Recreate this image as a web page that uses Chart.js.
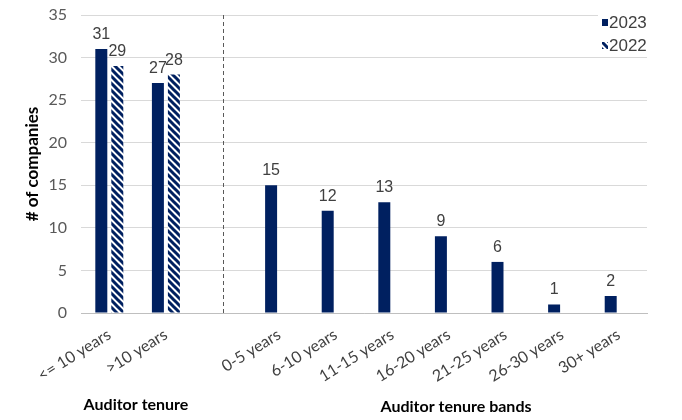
<!DOCTYPE html>
<html>
<head>
<meta charset="utf-8">
<script src="https://cdn.jsdelivr.net/npm/chart.js@4"></script>
<style>
    html, body { margin: 0; padding: 0; background: #fff; }
    #wrap { width: 682px; height: 420px; }
</style>
</head>
<body>
<div id="wrap"><canvas id="auditor_tenure"></canvas></div>
<script>
// Companies by auditor tenure, with a blank slot separating the two groupings.
const categories = ['<= 10 years', '>10 years', '', '0-5 years', '6-10 years', '11-15 years',
    '16-20 years', '21-25 years', '26-30 years', '30+ years'];
const companies2023 = [31, 27, null, 15, 12, 13, 9, 6, 1, 2];
const companies2022 = [29, 28, null, null, null, null, null, null, null, null];
const seriesNames = ['2023', '2022'];
const groupTitles = ['Auditor tenure', 'Auditor tenure bands'];

const navy = '#002060';
const textGrey = '#404040';

// diagonal stripes for the 2022 bars
function makeHatch(color) {
    const s = 7;
    const c = document.createElement('canvas');
    c.width = s;
    c.height = s;
    const g = c.getContext('2d');
    g.fillStyle = '#ffffff';
    g.fillRect(0, 0, s, s);
    g.strokeStyle = color;
    g.lineWidth = 3;
    g.beginPath();
    for (let k = -1; k <= 1; k++) {
        g.moveTo(-1, -1 + k * s);
        g.lineTo(s + 1, s + 1 + k * s);
    }
    g.stroke();
    return g.createPattern(c, 'repeat');
}

const hatch = makeHatch(navy);

const valueLabels = {
    id: 'valueLabels',
    afterDatasetsDraw(chart) {
        const ctx = chart.ctx;
        ctx.save();
        ctx.font = '16px "Liberation Sans", Arial, sans-serif';
        ctx.fillStyle = textGrey;
        ctx.textAlign = 'center';
        ctx.textBaseline = 'alphabetic';
        chart.data.datasets.forEach((ds, i) => {
            chart.getDatasetMeta(i).data.forEach((bar, j) => {
                if (ds.data[j] == null) return;
                ctx.fillText(String(ds.data[j]), bar.x, bar.y - 10);
            });
        });
        ctx.restore();
    }
};

// dashed divider on the empty category, group titles and the legend box
const extras = {
    id: 'extras',
    beforeDatasetsDraw(chart) {
        const ctx = chart.ctx;
        const area = chart.chartArea;
        const x = Math.round(chart.scales.x.getPixelForValue(2)) + 0.5;
        ctx.save();
        ctx.strokeStyle = '#595959';
        ctx.lineWidth = 1;
        ctx.setLineDash([4, 3]);
        ctx.beginPath();
        ctx.moveTo(x, area.top);
        ctx.lineTo(x, area.bottom);
        ctx.stroke();
        ctx.restore();
    },
    afterDraw(chart) {
        const ctx = chart.ctx;
        ctx.save();
        ctx.font = 'bold 16px Lato, sans-serif';
        ctx.fillStyle = '#000000';
        ctx.textAlign = 'center';
        ctx.textBaseline = 'middle';
        ctx.fillText(groupTitles[0], 136, 405);
        ctx.fillText(groupTitles[1], 456, 407);

        // legend
        ctx.fillStyle = '#ffffff';
        ctx.fillRect(598, 8, 62, 47);
        const fills = [navy, hatch];
        ctx.font = '17px "Liberation Sans", Arial, sans-serif';
        ctx.textAlign = 'left';
        seriesNames.forEach((name, i) => {
            const y = 22 + i * 23;
            ctx.fillStyle = fills[i];
            ctx.fillRect(602, y - 3, 6, 7);
            ctx.fillStyle = textGrey;
            ctx.fillText(name, 609, y + 1);
        });
        ctx.restore();
    }
};

const ctx = document.getElementById('auditor_tenure');

new Chart(ctx, {
    type: 'bar',
    data: {
        labels: categories,
        datasets: [{
            label: seriesNames[0],
            data: companies2023,
            backgroundColor: navy,
            categoryPercentage: 0.565,
            barPercentage: 0.75
        }, {
            label: seriesNames[1],
            data: companies2022,
            backgroundColor: hatch,
            categoryPercentage: 0.565,
            barPercentage: 0.75
        }]
    },
    options: {
        responsive: true,
        maintainAspectRatio: false,
        animation: false,
        layout: {
            padding: { top: 15, right: 35, bottom: 0, left: 0 }
        },
        plugins: {
            legend: { display: false },
            tooltip: { enabled: false }
        },
        scales: {
            x: {
                grid: { display: false, drawTicks: false },
                border: { color: '#bfbfbf' },
                ticks: {
                    font: { family: 'Lato, sans-serif', size: 16 },
                    color: '#404040',
                    minRotation: 32,
                    maxRotation: 32,
                    autoSkip: false,
                    padding: 12
                },
                afterFit(scale) { scale.height = 107; }
            },
            y: {
                min: 0,
                max: 35,
                grid: { color: '#d9d9d9', drawTicks: false },
                border: { display: false },
                ticks: {
                    stepSize: 5,
                    font: { family: 'Lato, sans-serif', size: 16 },
                    color: '#595959',
                    padding: 14
                },
                title: {
                    display: true,
                    text: '# of companies',
                    font: { family: 'Lato, sans-serif', size: 17, weight: 'bold' },
                    color: '#000000',
                    padding: { top: 22, bottom: 0 }
                },
                afterFit(scale) {
                    scale.width = 81;
                    scale.paddingTop = 0;
                    scale.paddingBottom = 0;
                }
            }
        }
    },
    plugins: [valueLabels, extras]
});
</script>
</body>
</html>
